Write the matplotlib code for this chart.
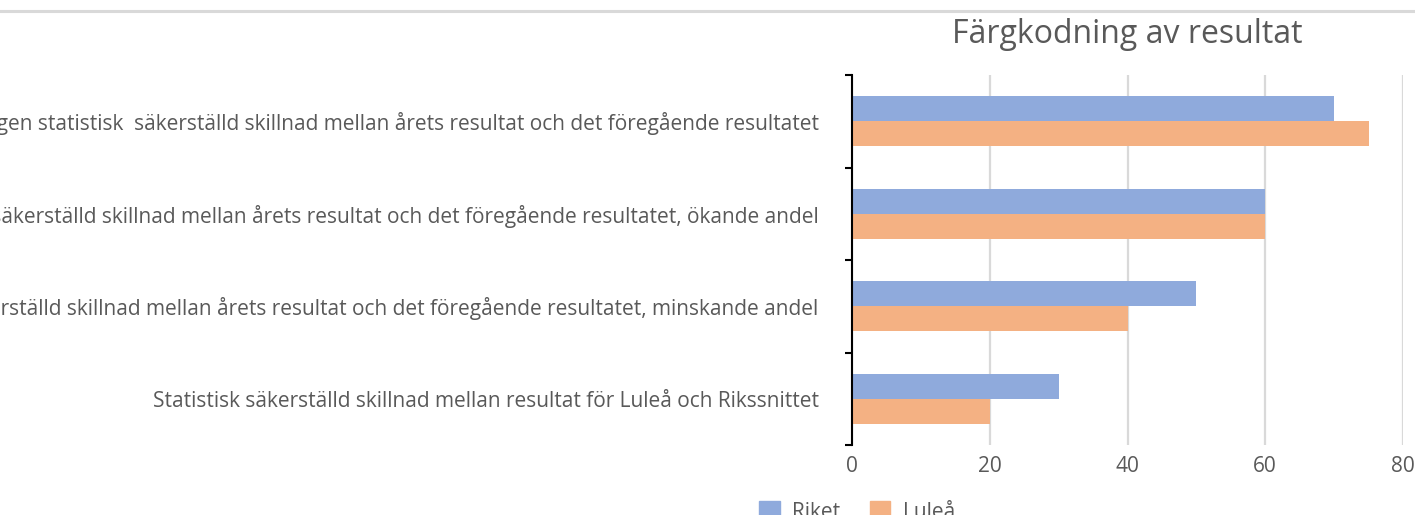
import matplotlib
matplotlib.use("Agg")
import matplotlib.pyplot as plt
from matplotlib.patches import Patch
from matplotlib.lines import Line2D
import numpy as np

plt.rcParams['font.family'] = ['Open Sans', 'DejaVu Sans']

categories = [
    "Ingen statistisk  säkerställd skillnad mellan årets resultat och det föregående resultatet",
    "Statistisk säkerställd skillnad mellan årets resultat och det föregående resultatet, ökande andel",
    "Statistisk säkerställd skillnad mellan årets resultat och det föregående resultatet, minskande andel",
    "Statistisk säkerställd skillnad mellan resultat för Luleå och Rikssnittet",
]
riket = [70, 60, 50, 30]
lulea = [75, 60, 40, 20]
series_names = ["Riket", "Luleå"]
xticks = [0, 20, 40, 60, 80]
title = "Färgkodning av resultat"

c_riket = "#8FAADC"
c_lulea = "#F4B183"
txt = "#595959"

fig = plt.figure(figsize=(14.15, 5.15), dpi=100)
ax = fig.add_axes([852/1415, 1-445/515, (1403-852)/1415, (445-75)/515])

y = np.arange(len(categories))
h = 0.27
ax.barh(y - h/2, riket, height=h, color=c_riket, zorder=3)
ax.barh(y + h/2, lulea, height=h, color=c_lulea, zorder=3)

ax.set_xlim(0, 80)
ax.set_ylim(3.5, -0.5)
ax.set_xticks(xticks)
ax.set_xticklabels([str(v) for v in xticks])
ax.grid(axis='x', color='#d9d9d9', linewidth=1.6, zorder=0)
ax.tick_params(axis='x', length=0, pad=8, labelsize=15, labelcolor=txt)

ax.set_yticks(np.arange(-0.5, len(categories), 1.0))
ax.set_yticklabels([])
ax.tick_params(axis='y', which='major', length=5, width=1.5, direction='out', color='black')
ax.set_yticks(y, categories, minor=True)
ax.tick_params(axis='y', which='minor', length=0, pad=24, labelsize=15, labelcolor=txt)

for s in ['top', 'right', 'bottom']:
    ax.spines[s].set_visible(False)
ax.spines['left'].set_color('black')
ax.spines['left'].set_linewidth(1.5)
ax.spines['left'].set_zorder(4)

ax.set_title(title, fontsize=23, color=txt, pad=23)

fig.add_artist(Line2D([0, 1], [1-11/515, 1-11/515], color='#d9d9d9', linewidth=2.2,
                      transform=fig.transFigure))

handles = [Patch(color=c_riket, label=series_names[0]), Patch(color=c_lulea, label=series_names[1])]
fig.legend(handles=handles, loc='center', bbox_to_anchor=(857/1415, 3/515), ncol=2,
           frameon=False, fontsize=15, labelcolor=txt, handlelength=1.0, handleheight=1.0,
           columnspacing=1.4, handletextpad=0.6)

fig.savefig("out.png", dpi=100)
